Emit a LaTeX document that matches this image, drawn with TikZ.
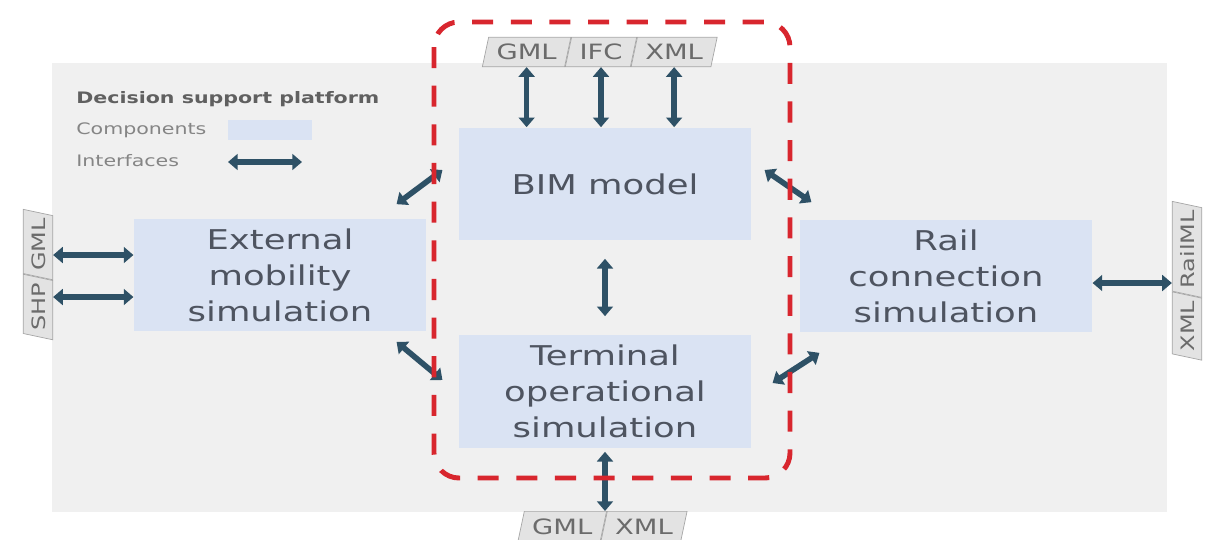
\documentclass[tikz,border=0pt]{standalone}
\usepackage{fontspec}
\setmainfont[FakeStretch=1.3]{DejaVu Sans}
\usetikzlibrary{arrows.meta,shapes.geometric,calc}

\definecolor{platformgray}{HTML}{F0F0F0}
\definecolor{compblue}{HTML}{DAE3F3}
\definecolor{ifacecol}{HTML}{2E5166}
\definecolor{groupred}{HTML}{D8262E}
\definecolor{boxtext}{HTML}{4E5460}
\definecolor{tagfill}{HTML}{E3E3E3}
\definecolor{tagline}{HTML}{A6A6A6}
\definecolor{tagtext}{HTML}{6B6B6B}
\definecolor{legtext}{HTML}{858585}
\definecolor{legtitle}{HTML}{606060}

\begin{document}
\begin{tikzpicture}[x=0.02cm,y=-0.02cm]
\tikzstyle{block} = [rectangle, fill=compblue, text=boxtext, align=center,
minimum width=5.85cm, minimum height=2.26cm, font=\fontsize{15.5}{20.5}\selectfont]
\tikzstyle{tag} = [trapezium, trapezium left angle=78, trapezium right angle=102,
draw=tagline, fill=tagfill, text=tagtext, text height=9pt, text depth=0pt,
inner xsep=4.5pt, inner ysep=3.9pt, font=\fontsize{12}{12}\selectfont]
\tikzstyle{tagv} = [tag, rotate=90, inner xsep=1.5pt, font=\fontsize{10.5}{10.5}\selectfont]
\tikzstyle{legend} = [anchor=west, text=legtext, inner sep=0pt, font=\fontsize{9}{10}\selectfont]
\tikzstyle{iface} = [draw=ifacecol, line width=3.2pt,
{Triangle[length=5.5pt,width=9pt]}-{Triangle[length=5.5pt,width=9pt]}]
\tikzstyle{group} = [draw=groupred, line width=2.8pt, dash pattern=on 12pt off 10pt,
rounded corners=0.5cm]

\useasboundingbox (0,0) rectangle (1232,539);
% platform
\fill[platformgray] (52,63) rectangle (1167,512);
% legend
\node[legend, text=legtitle, font=\bfseries\fontsize{9}{10}\selectfont] (legtitle) at (76,99) {Decision support platform};
\node[legend] (legcomp) at (76,130) {Components};
\node[legend] (legintf) at (76,161) {Interfaces};
\node[fill=compblue, minimum width=1.7cm, minimum height=0.4cm, inner sep=0pt] (legbox) at (270,130) {};
\coordinate (legia) at (228,162);
\coordinate (legib) at (302,162);
\draw[iface] (legia) -- (legib);
% components
\node[block] (bim) at (605,184) {BIM model};
\node[block] (term) at (605,391) {Terminal\\operational\\simulation};
\node[block] (ext) at (280,275) {External\\mobility\\simulation};
\node[block] (rail) at (946,276) {Rail\\connection\\simulation};
% formats
\node[tag] (ifcT) at (601,52) {IFC};
\node[tag, anchor=bottom right corner] (gmlT) at (ifcT.bottom left corner) {GML};
\node[tag, anchor=bottom left corner] (xmlT) at (ifcT.bottom right corner) {XML};
\node[tag, anchor=top right corner] (gmlB) at (607,511) {GML};
\node[tag, anchor=top left corner] (xmlB) at (gmlB.top right corner) {XML};
\node[tagv] (shpL) at (38,307) {SHP};
\node[tagv, anchor=bottom left corner] (gmlL) at (shpL.bottom right corner) {GML};
\node[tagv] (xmlR) at (1187,326) {XML};
\node[tagv, anchor=bottom left corner] (railR) at (xmlR.bottom right corner) {RailML};
% interfaces
\draw[iface] (gmlT.south) -- (gmlT.south |- bim.north);
\draw[iface] (ifcT.south) -- (ifcT.south |- bim.north);
\draw[iface] (xmlT.south) -- (xmlT.south |- bim.north);
\draw[iface, shorten <=0.36cm, shorten >=0.36cm] (bim.south) -- (term.north);
\draw[iface, shorten <=0.08cm] (term.south) -- (term.south |- gmlB.north);
\coordinate (extin1) at ($(ext.west)+(0,-20)$);
\coordinate (extin2) at ($(ext.west)+(0,22)$);
\draw[iface] (extin1 -| gmlL.south) -- (extin1);
\draw[iface] (extin2 -| gmlL.south) -- (extin2);
\coordinate (railout) at ($(rail.east)+(0,7)$);
\draw[iface] (railout) -- (railout -| xmlR.north);
\draw[iface] ($(ext.north east)+(-30,-14)$) -- ($(bim.west)+(-16,-14)$);
\draw[iface] ($(ext.south east)+(-30,10)$) -- ($(term.west)+(-16,-11)$);
\draw[iface] ($(bim.east)+(13,-14)$) -- ($(rail.north west)+(12,-17)$);
\draw[iface] ($(term.east)+(21,-8)$) -- ($(rail.south west)+(20,20)$);
% BIM group
\draw[group] (434,22) rectangle (790,478);
\end{tikzpicture}
\end{document}
